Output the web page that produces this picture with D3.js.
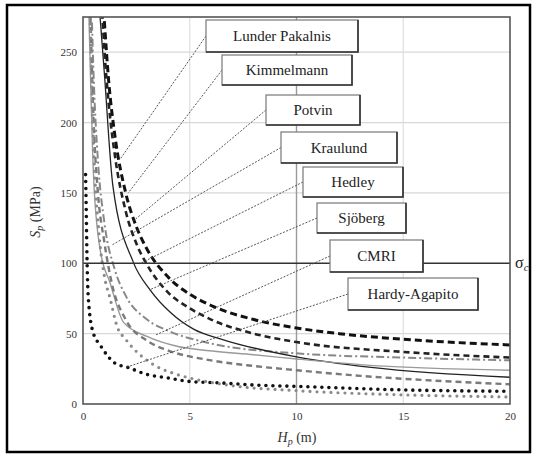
<!DOCTYPE html>
<html><head><meta charset="utf-8">
<script src="https://cdn.jsdelivr.net/npm/d3@7"></script>
<style>
body{margin:0;background:#fff}
svg text{font-family:"Liberation Serif","Times New Roman",Times,Tinos,"DejaVu Serif","Noto Serif",FreeSerif,serif;}
</style>
</head><body><svg id="c" width="536" height="455"></svg>
<script>
// ---- data ----
const xTicks = [0, 5, 10, 15, 20];
const yTicks = [0, 50, 100, 150, 200, 250];
const sigmaC = 100;
const names = ["Lunder Pakalnis","Kimmelmann","Potvin","Kraulund","Hedley","Sjöberg","CMRI","Hardy-Agapito"];
const hpLunder = [1.0,1.2,1.5,2,2.5,3,4,5,6,8,10,12,15,20];
const spLunder = [272,230,190,150,126,110,90,78,70,60,54,50,46,42];
const hpKimmel = [0.9,1,1.2,1.5,2,2.5,3,4,5,6,8,10,15,20];
const spKimmel = [278,252,214,176,137,114,99,79,68,60,50,44,37,33];
const hpPotvin = [0.42,0.5,0.7,1,1.5,2,3,4,6,10,15,20];
const spPotvin = [271,232,173,129,95,77,60,52,43,36,33,31];
const hpKraul = [0.8,1.0,1.4,2.35,3.15,4.1,5.2,6.5,10,13.5,20];
const spKraul = [275,235,155,101,81,65,53,46,33.5,26,19];
const hpHedley = [0.28,0.5,0.8,1.27,1.9,3.0,4.4,5.8,8,10,13,20];
const spHedley = [275,160,110,86,58,48,41,38,35,32,28,24];
const hpSjob = [0.35,0.5,0.7,1.0,1.36,2,3,4,6,8,10,13,16,20];
const spSjob = [275,200,150,115,85,60,45,38,31,27,24,20,17,14];
const hpCMRI = [0.12,0.15,0.18,0.25,0.47,0.8,1.5,2.1,3,4,5,6.4,8,10,15,20];
const spCMRI = [163,140,110,75,51,42,29,26,21,18.5,16,15,13.5,12.5,10,9];
const hpHardy = [0.33,0.5,0.75,1.0,1.27,1.6,2,3.3,4.2,5,7,10,15,20];
const spHardy = [275,182,121,91,75,55,46,28,22,18.5,13,9.5,6.5,5];
// leader anchor points on curves (Hp, Sp)
const anchorHp = [1.74,2.12,2.35,1.36,2.7,3.1,3.4,2.0];
const anchorSp = [174,150,130,113,100,81,49,26];

// ---- layout / styles ----
const m = {l:83, r:510, t:17, b:404};
const svg = d3.select("#c");
const x = d3.scaleLinear().domain([0,20]).range([m.l, m.r]);
const y = d3.scaleLinear().domain([0,275]).range([m.b, m.t]);

svg.append("rect").attr("x",7).attr("y",5).attr("width",523).attr("height",447)
  .attr("fill","#fff").attr("stroke","#000").attr("stroke-width",2.5);

// grid
svg.append("g").selectAll("line").data(yTicks.filter(d=>d>0 && d!==sigmaC)).join("line")
  .attr("x1",m.l).attr("x2",m.r).attr("y1",d=>y(d)).attr("y2",d=>y(d))
  .attr("stroke","#d8d8d8").attr("stroke-width",1.2);
svg.append("g").selectAll("line").data(xTicks.filter(d=>d>0 && d<20)).join("line")
  .attr("y1",m.t).attr("y2",m.b).attr("x1",d=>x(d)).attr("x2",d=>x(d))
  .attr("stroke",d=>d===10?"#9a9a9a":"#dedede").attr("stroke-width",d=>d===10?1.4:1.2);

// axes
const ax = svg.append("g").attr("transform",`translate(0,${m.b})`)
  .call(d3.axisBottom(x).tickValues(xTicks).tickSize(0).tickPadding(8));
const ay = svg.append("g").attr("transform",`translate(${m.l},0)`)
  .call(d3.axisLeft(y).tickValues(yTicks).tickSize(0).tickPadding(6));
[ax,ay].forEach(g=>{g.select(".domain").remove();
  g.attr("font-family",null);
  g.selectAll("text").attr("font-size",11).attr("fill","#333");});

// series
const series = [
  {hp:hpLunder, sp:spLunder, color:"#111", w:3, dash:"7,4", cap:"butt"},
  {hp:hpKimmel, sp:spKimmel, color:"#222", w:2.6, dash:"6,4", cap:"butt"},
  {hp:hpPotvin, sp:spPotvin, color:"#888", w:2, dash:"8,3,2,3", cap:"butt"},
  {hp:hpKraul, sp:spKraul, color:"#222", w:1.3, dash:null, cap:"butt"},
  {hp:hpHedley, sp:spHedley, color:"#9a9a9a", w:1.4, dash:null, cap:"butt"},
  {hp:hpSjob, sp:spSjob, color:"#7a7a7a", w:2.4, dash:"6,4", cap:"butt"},
  {hp:hpCMRI, sp:spCMRI, color:"#111", w:3.6, dash:"0,7", cap:"round"},
  {hp:hpHardy, sp:spHardy, color:"#8a8a8a", w:3.2, dash:"0,7", cap:"round"}
];
svg.append("clipPath").attr("id","clip").append("rect")
  .attr("x",m.l).attr("y",m.t).attr("width",m.r-m.l).attr("height",m.b-m.t);
const line = d3.line().x(d=>x(d[0])).y(d=>y(d[1])).curve(d3.curveMonotoneX);
const gL = svg.append("g").attr("clip-path","url(#clip)");
series.forEach(s=>{
  gL.append("path").datum(s.hp.map((h,i)=>[h,s.sp[i]]))
    .attr("d",line).attr("fill","none").attr("stroke",s.color)
    .attr("stroke-width",s.w).attr("stroke-dasharray",s.dash)
    .attr("stroke-linecap",s.cap);
});

// sigma c line
svg.append("line").attr("x1",m.l).attr("x2",m.r).attr("y1",y(sigmaC)).attr("y2",y(sigmaC))
  .attr("stroke","#333").attr("stroke-width",1.5);
const sl = svg.append("text").attr("x",m.r+5).attr("y",y(sigmaC)+5)
  .attr("font-size",16).attr("fill","#222");
sl.append("tspan").text("σ");
sl.append("tspan").attr("font-size",11).attr("dy",3).attr("font-style","italic").text("c");

// plot frame
svg.append("rect").attr("x",m.l).attr("y",m.t).attr("width",m.r-m.l).attr("height",m.b-m.t)
  .attr("fill","none").attr("stroke","#555").attr("stroke-width",1.6);

// label boxes
const boxes = [
  [206,20,152,32],[222,55,130,30],[266,95,94,30],[281,132,116,31],
  [303,167,100,30],[317,203,89,30],[330,240,93,32],[348,278,130,32]
];
boxes.forEach((b,i)=>{
  const [bx,by,bw,bh] = b;
  svg.append("line").attr("x1",bx).attr("y1",by+bh/2)
    .attr("x2",x(anchorHp[i])).attr("y2",y(anchorSp[i]))
    .attr("stroke","#444").attr("stroke-width",0.9).attr("stroke-dasharray","2,1.5");
  svg.append("rect").attr("x",bx).attr("y",by).attr("width",bw).attr("height",bh)
    .attr("fill","#fff").attr("stroke","#777").attr("stroke-width",1.2);
  svg.append("path").attr("d",`M${bx+bw},${by}V${by+bh}H${bx}`)
    .attr("fill","none").attr("stroke","#333").attr("stroke-width",1.6);
  svg.append("text").attr("x",bx+bw/2).attr("y",by+bh/2+5).attr("text-anchor","middle")
    .attr("font-size",15).attr("fill","#222").text(names[i]);
});

// axis titles
const xt = svg.append("text").attr("x",297).attr("y",442).attr("text-anchor","middle")
  .attr("font-size",14).attr("fill","#333");
xt.append("tspan").attr("font-style","italic").text("H");
xt.append("tspan").attr("font-size",10).attr("dy",3).attr("font-style","italic").text("p");
xt.append("tspan").attr("dy",-3).text(" (m)");
const yt = svg.append("text").attr("transform","translate(40,212) rotate(-90)").attr("text-anchor","middle")
  .attr("font-size",14).attr("fill","#333");
yt.append("tspan").attr("font-style","italic").text("S");
yt.append("tspan").attr("font-size",10).attr("dy",3).attr("font-style","italic").text("p");
yt.append("tspan").attr("dy",-3).text(" (MPa)");
</script></body></html>
